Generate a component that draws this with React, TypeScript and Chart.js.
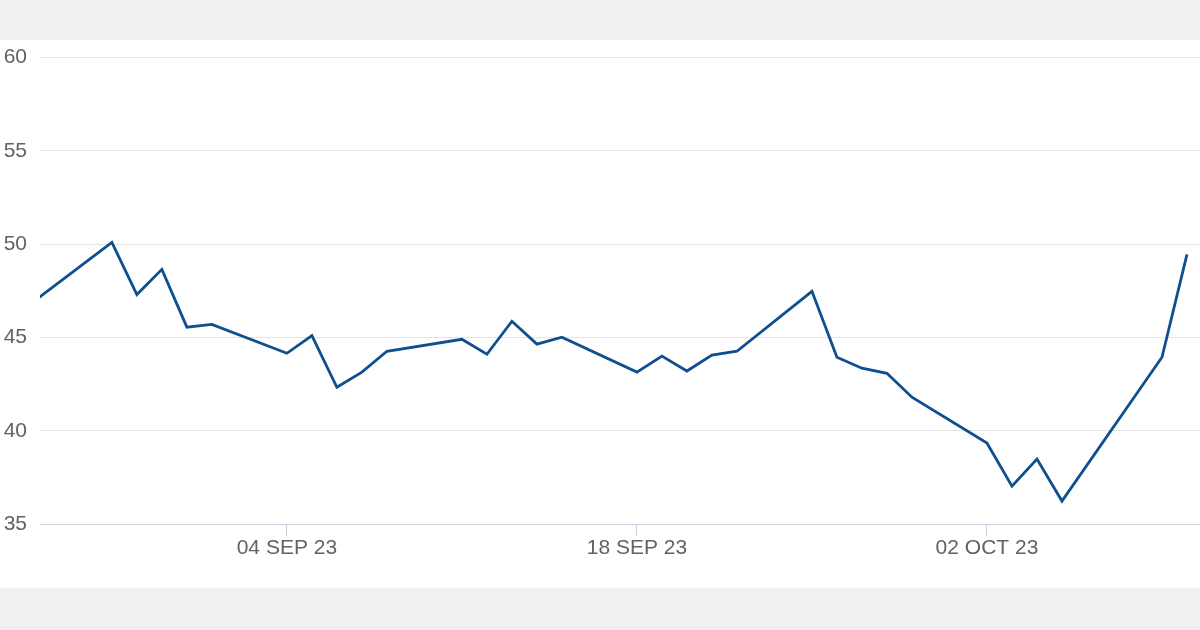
import React, { useEffect, useRef } from "react";
import { Chart, registerables } from "chart.js";

Chart.register(...registerables);

const startDate = "2023-08-25";
const axisMin = "2023-08-25T03:00:00Z";
const axisMax = "2023-10-10T12:30:00Z";

const dates = [
  "2023-08-25", "2023-08-28", "2023-08-29", "2023-08-30", "2023-08-31", "2023-09-01",
  "2023-09-04", "2023-09-05", "2023-09-06", "2023-09-07", "2023-09-08",
  "2023-09-11", "2023-09-12", "2023-09-13", "2023-09-14", "2023-09-15",
  "2023-09-18", "2023-09-19", "2023-09-20", "2023-09-21", "2023-09-22",
  "2023-09-25", "2023-09-26", "2023-09-27", "2023-09-28", "2023-09-29",
  "2023-10-02", "2023-10-03", "2023-10-04", "2023-10-05",
  "2023-10-09", "2023-10-10",
];

const values = [
  47.05, 50.1, 47.3, 48.65, 45.55, 45.7,
  44.15, 45.1, 42.33, 43.14, 44.26,
  44.9, 44.1, 45.87, 44.64, 45.01,
  43.14, 44.0, 43.2, 44.05, 44.26,
  47.47, 43.94, 43.35, 43.08, 41.8,
  39.34, 37.03, 38.48, 36.23,
  43.94, 49.45,
];

const xTickDates = ["2023-09-04", "2023-09-18", "2023-10-02"];
const xTickLabels = ["04 SEP 23", "18 SEP 23", "02 OCT 23"];
const yTicks = [35, 40, 45, 50, 55, 60];

const DAY = 86400000;
const dayOffset = (d: string) => (Date.parse(d) - Date.parse(startDate)) / DAY;

export default function App() {
  const ref = useRef<HTMLCanvasElement | null>(null);

  useEffect(() => {
    document.body.style.margin = "0";
    if (!ref.current) return;
    const font = { family: "'Liberation Sans', Arial, sans-serif", size: 21 };
    const tickOffsets = xTickDates.map(dayOffset);
    const chart = new Chart(ref.current, {
      type: "line",
      data: {
        datasets: [
          {
            data: dates.map((d, i) => ({ x: dayOffset(d), y: values[i] })),
            borderColor: "#0d4f8f",
            borderWidth: 2.8,
            pointRadius: 0,
            tension: 0,
            fill: false,
            clip: 0,
          },
        ],
      },
      options: {
        animation: false,
        responsive: false,
        maintainAspectRatio: false,
        layout: { padding: { top: 17, right: 0, bottom: 0, left: 0 } },
        plugins: { legend: { display: false }, tooltip: { enabled: false } },
        scales: {
          x: {
            type: "linear",
            min: dayOffset(axisMin),
            max: dayOffset(axisMax),
            afterBuildTicks: (s: any) => {
              s.ticks = tickOffsets.map((v) => ({ value: v }));
            },
            afterFit: (s: any) => {
              s.height = 64;
            },
            ticks: {
              autoSkip: false,
              maxRotation: 0,
              padding: 0,
              color: "#626262",
              font,
              callback: (v: any) => {
                const idx = tickOffsets.findIndex((t) => Math.abs(t - Number(v)) < 0.01);
                return idx >= 0 ? xTickLabels[idx] : "";
              },
            },
            grid: {
              drawOnChartArea: false,
              drawTicks: true,
              tickLength: 12,
              color: "#c9d2dc",
            },
            border: { color: "#c9d2dc", width: 1 },
          },
          y: {
            min: 35,
            max: 60,
            afterBuildTicks: (s: any) => {
              s.ticks = yTicks.map((v) => ({ value: v }));
            },
            afterFit: (s: any) => {
              s.width = 45;
            },
            ticks: { padding: 13, color: "#626262", font },
            grid: { drawTicks: false, color: "#e4e4e4" },
            border: { display: false },
          },
        },
      },
    });
    return () => chart.destroy();
  }, []);

  return (
    <div style={{ position: "relative", width: 1200, height: 630, background: "#f0f0f0", overflow: "hidden" }}>
      <div style={{ position: "absolute", left: 0, top: 40, width: 1200, height: 548, background: "#ffffff", overflow: "hidden" }}>
        <canvas ref={ref} width={1205} height={556} style={{ position: "absolute", left: -5, top: -8, width: 1205, height: 556 }} />
      </div>
    </div>
  );
}
